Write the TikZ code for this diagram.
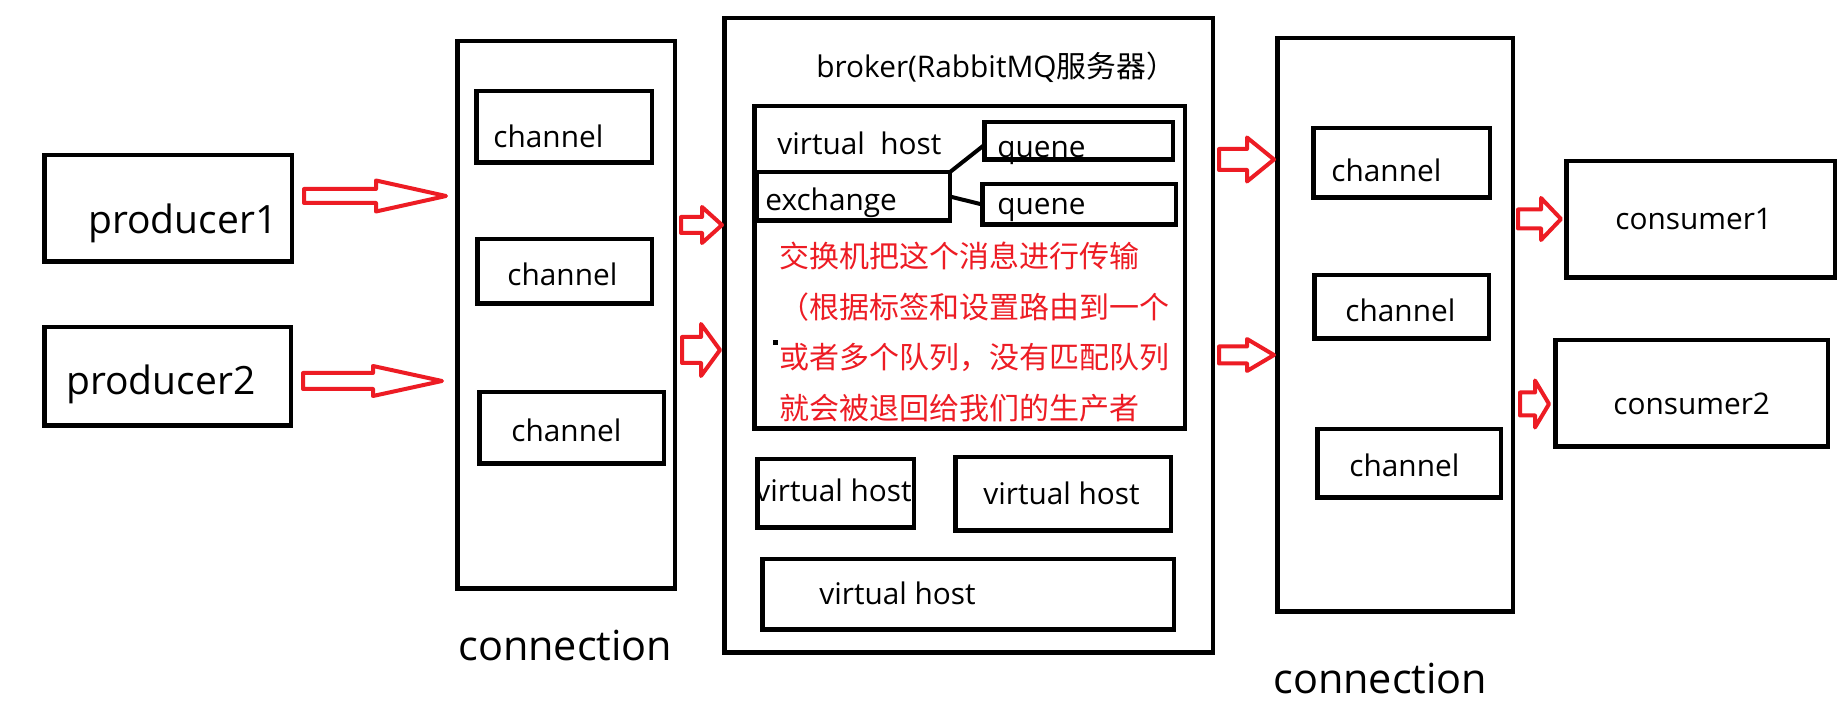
\documentclass[tikz,border=0pt]{standalone}
\usepackage{fontspec}
\setmainfont{Open Sans}
\newfontfamily\cjk{Noto Sans CJK SC}
\usetikzlibrary{calc}
\definecolor{pred}{RGB}{237,28,36}
\newcommand\bx[5]{\node[bxst, minimum width={(#4-#2-4.5)*0.5pt}, minimum height={(#5-#3-4.5)*0.5pt}] (#1) at ({(#2+#4)/2},{(#3+#5)/2}) {};}
\newcommand\barrow[6]{\draw[arr] (#1+2,#4-#5+2) -- (#2,#4-#5+2) -- (#2,#4-#6+2) -- (#3-3,#4) -- (#2,#4+#6-2) -- (#2,#4+#5-2) -- (#1+2,#4+#5-2) -- cycle;}
\tikzset{
  bxst/.style={draw=black, line width=2.25pt, rectangle, inner sep=0pt, outer sep=0pt},
  arr/.style={draw=pred, line width=2pt, line join=round},
  lab/.style={anchor=base west, inner sep=0pt, font=\fontsize{14.9}{16}\selectfont},
  big/.style={anchor=base west, inner sep=0pt, font=\fontsize{19.5}{22}\selectfont},
  redtxt/.style={anchor=west, inner sep=0pt, text=pred, font=\cjk\fontsize{15}{17}\selectfont},
  lnk/.style={draw=black, line width=2pt}
}
\begin{document}
\begin{tikzpicture}[x=0.5pt,y=-0.5pt]
\fill[white] (0,0) rectangle (1844,710);
\useasboundingbox (0,0) rectangle (1844,710);
% texts
\node[big] (tp1) at (88,234) {producer1};
\node[big] (tp2) at (66,395) {producer2};
\node[lab] (tcl1) at (493,148) {channel};
\node[lab] (tcl2) at (507,286) {channel};
\node[lab] (tcl3) at (511,442) {channel};
\node[big, font=\fontsize{20.7}{22}\selectfont] (tcon1) at (458,661) {connection};
\node[lab] (ttitle) at (816,78) {broker(RabbitMQ{\cjk 服务器）}};
\node[lab] (tvh) at (777,155) {virtual~~host};
\node[lab] (tex) at (765,211) {exchange};
\node[lab] (tq1) at (997,158) {quene};
\node[lab] (tq2) at (997,215) {quene};
\node[redtxt] (r1) at (779,256) {交换机把这个消息进行传输};
\node[redtxt] (r2) at (779,307) {（根据标签和设置路由到一个};
\node[redtxt] (r3) at (779,357) {或者多个队列，没有匹配队列};
\node[redtxt] (r4) at (779,408) {就会被退回给我们的生产者};
\node[lab] (tvh2) at (755,502) {virtual host};
\node[lab] (tvh3) at (983,505) {virtual host};
\node[lab] (tvh4) at (819,605) {virtual host};
\node[lab] (tcr1) at (1331,182) {channel};
\node[lab] (tcr2) at (1345,322) {channel};
\node[lab] (tcr3) at (1349,477) {channel};
\node[big, font=\fontsize{20.7}{22}\selectfont] (tcon2) at (1273,694) {connection};
\node[lab] (tco1) at (1615,230) {consumer1};
\node[lab] (tco2) at (1613,415) {consumer2};
% boxes
\bx{p1}{42}{153}{294}{264}
\bx{p2}{42}{325}{293}{428}
\bx{c1}{455}{39}{677}{591}
\bx{cl1}{474}{89}{654}{165}
\bx{cl2}{475}{237}{654}{306}
\bx{cl3}{477}{390}{666}{466}
\bx{br}{722}{16}{1215}{655}
\bx{vh}{752}{104}{1187}{431}
\bx{q1}{982}{120}{1175}{162}
\bx{q2}{980}{182}{1178}{227}
\bx{ex}{754}{170}{952}{223}
\bx{vh2}{755}{457}{916}{530}
\bx{vh3}{953}{455}{1173}{533}
\bx{vh4}{760}{557}{1176}{632}
\bx{c2}{1275}{36}{1515}{614}
\bx{cr1}{1311}{126}{1492}{200}
\bx{cr2}{1312}{273}{1491}{341}
\bx{cr3}{1315}{427}{1503}{500}
\bx{co1}{1564}{159}{1837}{280}
\bx{co2}{1553}{338}{1830}{449}
% exchange links
\draw[lnk] (ex.north east) -- ($(q1.west)+(0,4)$);
\draw[lnk] (ex.east) -- (q2.west);
% small dot
\fill[black] (772.5,340.5) rectangle (777.5,345.5);
% block arrows
\barrow{302}{376}{449}{196}{9}{17.5}
\barrow{301}{373}{445}{381}{10}{17}
\barrow{679}{702}{725}{225}{10}{20}
\barrow{680}{701}{723}{350}{15}{28}
\barrow{1217}{1247}{1277}{159.5}{12.5}{24}
\barrow{1217}{1247}{1277}{355}{10.5}{18}
\barrow{1516}{1541}{1564}{219}{11.5}{23}
\barrow{1518}{1535}{1552}{404}{13.5}{25.5}
\end{tikzpicture}
\end{document}
